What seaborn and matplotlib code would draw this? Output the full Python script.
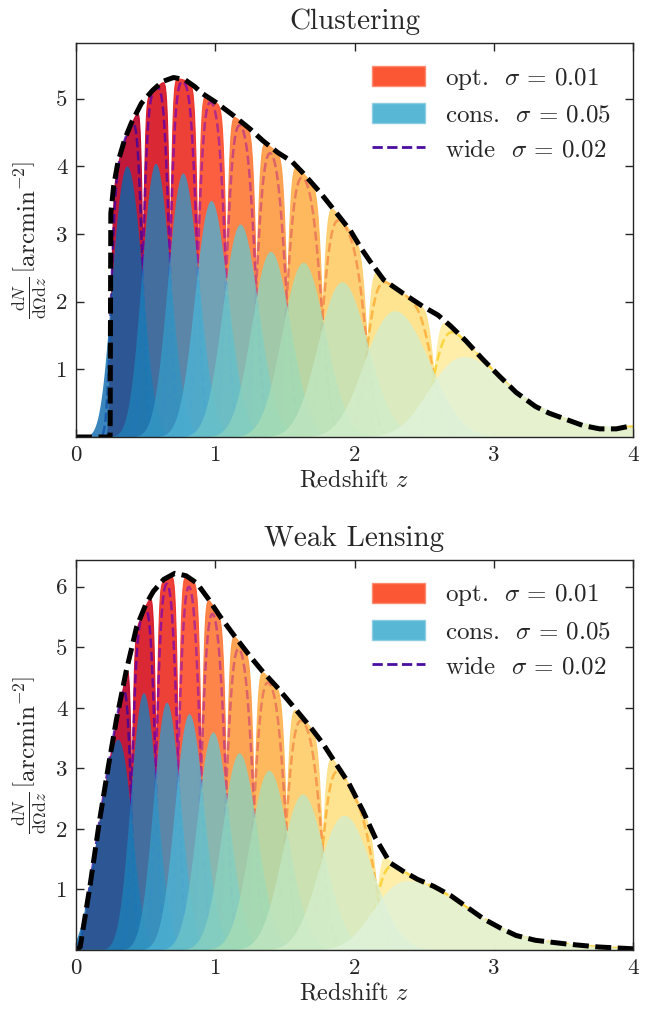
import matplotlib
matplotlib.use("Agg")
import matplotlib.pyplot as plt
import numpy as np
import seaborn as sns
from matplotlib.lines import Line2D
from matplotlib.patches import Patch

# total dN/dOmega/dz
clu_z = [0.0, 0.245, 0.25, 0.27, 0.30, 0.35, 0.40, 0.47, 0.55, 0.62, 0.70, 0.78,
         0.85, 0.91, 1.00, 1.13, 1.25, 1.34, 1.45, 1.55, 1.63, 1.75, 1.87, 1.97,
         2.05, 2.11, 2.21, 2.35, 2.49, 2.60, 2.69, 2.80, 2.92, 3.04, 3.16, 3.30,
         3.40, 3.52, 3.64, 3.76, 3.88, 4.00]
clu_n = [0.0, 0.0, 3.3, 3.7, 4.05, 4.4, 4.65, 4.93, 5.12, 5.25, 5.31, 5.28,
         5.18, 5.07, 4.95, 4.75, 4.55, 4.38, 4.2, 4.07, 3.9, 3.62, 3.31, 3.05,
         2.78, 2.6, 2.32, 2.12, 1.93, 1.8, 1.64, 1.42, 1.15, 0.9, 0.66, 0.45,
         0.35, 0.26, 0.17, 0.12, 0.12, 0.17]

wl_z = [0.0, 0.03, 0.10, 0.17, 0.23, 0.29, 0.36, 0.436, 0.50, 0.555, 0.63, 0.71,
        0.79, 0.867, 0.95, 1.034, 1.14, 1.25, 1.34, 1.44, 1.55, 1.68, 1.77, 1.86,
        1.96, 2.06, 2.15, 2.255, 2.35, 2.45, 2.57, 2.69, 2.80, 2.93, 3.05, 3.16,
        3.30, 3.52, 3.75, 4.00]
wl_n = [0.0, 0.05, 1.05, 2.15, 3.0, 3.8, 4.6, 5.34, 5.7, 5.92, 6.12, 6.22,
        6.18, 6.06, 5.8, 5.51, 5.18, 4.85, 4.6, 4.35, 4.05, 3.69, 3.42, 3.1,
        2.75, 2.3, 1.85, 1.44, 1.3, 1.17, 1.05, 0.9, 0.72, 0.51, 0.36, 0.24,
        0.16, 0.1, 0.05, 0.02]

# tomographic bin edges (true redshift), read from the notches of the opt. bins
clu_edges = [0.25, 0.48, 0.675, 0.875, 1.08, 1.295, 1.515, 1.77, 2.09, 2.57, 4.4]
wl_edges = [0.0, 0.40, 0.575, 0.735, 0.90, 1.08, 1.28, 1.51, 1.77, 2.16, 4.4]

# photo-z scatter sigma*(1+z) for the three set-ups (legend)
sigma_opt = 0.01
sigma_cons = 0.05
sigma_wide = 0.02

z_grid = np.linspace(0.0, 4.4, 1761)
dz = z_grid[1] - z_grid[0]


def scatter_kernel(sigma):
    s = sigma * (1 + z_grid)
    diff = z_grid[:, None] - z_grid[None, :]
    return np.exp(-0.5 * (diff / s[None, :]) ** 2) / (np.sqrt(2 * np.pi) * s[None, :]) * dz


kernels = {s: scatter_kernel(s) for s in (sigma_opt, sigma_cons, sigma_wide)}


def bin_curves(z_pts, n_pts, edges, sigma):
    n = np.interp(z_grid, z_pts, n_pts)
    out = []
    for lo, hi in zip(edges[:-1], edges[1:]):
        src = np.where((z_grid >= lo) & (z_grid < hi), n, 0.0)
        out.append(kernels[sigma] @ src)
    return out


sns.set_style("ticks")
plt.rcParams["font.family"] = "serif"
plt.rcParams["font.serif"] = ["cmr10", "DejaVu Serif"]
plt.rcParams["mathtext.fontset"] = "cm"
plt.rcParams["axes.formatter.use_mathtext"] = True

n_bins = 10
opt_cmap = sns.color_palette("YlOrRd", as_cmap=True)
cons_cmap = sns.color_palette("GnBu", as_cmap=True)
wide_cmap = sns.color_palette("plasma", as_cmap=True)
opt_colors = [opt_cmap(v) for v in np.linspace(0.875, 0.125, n_bins)]
cons_colors = [cons_cmap(v) for v in np.linspace(0.875, 0.125, n_bins)]
wide_colors = [wide_cmap(v) for v in np.linspace(0.1, 0.9, n_bins)]

fig = plt.figure(figsize=(6.51, 10.14), dpi=100)
ax_top = fig.add_axes([76 / 651, 1 - 437 / 1014, 557 / 651, 394 / 1014])
ax_bot = fig.add_axes([76 / 651, 1 - 950 / 1014, 557 / 651, 390 / 1014])

panels = [
    (ax_top, "Clustering", clu_z, clu_n, clu_edges, 5.82, [1, 2, 3, 4, 5]),
    (ax_bot, "Weak Lensing", wl_z, wl_n, wl_edges, 6.44, [1, 2, 3, 4, 5, 6]),
]

for ax, title, zs, ns, edges, ymax, yticks in panels:
    opt = bin_curves(zs, ns, edges, sigma_opt)
    cons = bin_curves(zs, ns, edges, sigma_cons)
    wide = bin_curves(zs, ns, edges, sigma_wide)

    for i in range(n_bins):
        ax.fill_between(z_grid, 0, opt[i], color=opt_colors[i], alpha=0.9,
                        lw=0.8, zorder=1)
    for i in range(n_bins):
        # hide the flat tails, they sit on the axis
        w = np.where(wide[i] > 0.03, wide[i], np.nan)
        ax.plot(z_grid, w, color=wide_colors[i], lw=1.8, ls="--", alpha=0.8, zorder=1.5)
    for i in range(n_bins):
        ax.fill_between(z_grid, 0, cons[i], color=cons_colors[i], alpha=0.8,
                        lw=0, zorder=2)

    ax.plot(zs, ns, color="black", lw=3.6, linestyle=(0, (3.2, 1.3)), zorder=5)

    ax.set_xlim(0, 4)
    ax.set_ylim(0, ymax)
    ax.set_xticks([0, 1, 2, 3, 4], ["0", "1", "2", "3", "4"])
    ax.set_yticks(yticks, [str(t) for t in yticks])
    ax.tick_params(direction="in", top=True, right=True, length=6, width=1,
                   labelsize=16.5, pad=6)
    for sp in ax.spines.values():
        sp.set_linewidth(1.0)
        sp.set_zorder(6)
    ax.set_title(title, fontsize=21, pad=10)
    ax.set_xlabel("Redshift $z$", fontsize=17.5, labelpad=3)
    ax.set_ylabel(r"$\frac{\mathrm{d}N}{\mathrm{d}\Omega\mathrm{d}z}\,\left[\mathrm{arcmin}^{-2}\right]$",
                  fontsize=18, labelpad=5)

    handles = [
        Patch(facecolor="#fc4e2a", edgecolor="#fc8a70", alpha=0.95),
        Patch(facecolor="#4eb3d3", edgecolor="#8ccde0", alpha=0.95),
        Line2D([0], [0], color="#4b0ca0", lw=2, ls="--"),
    ]
    labels = [r"opt.  $\sigma\,=\,0.01$", r"cons.  $\sigma\,=\,0.05$", r"wide  $\sigma\,=\,0.02$"]
    ax.legend(handles, labels, loc="upper right", frameon=False, fontsize=18,
              handlelength=2.1, handleheight=0.85, handletextpad=0.8,
              labelspacing=0.45, borderaxespad=0.5)

fig.savefig("out.png", dpi=100)
